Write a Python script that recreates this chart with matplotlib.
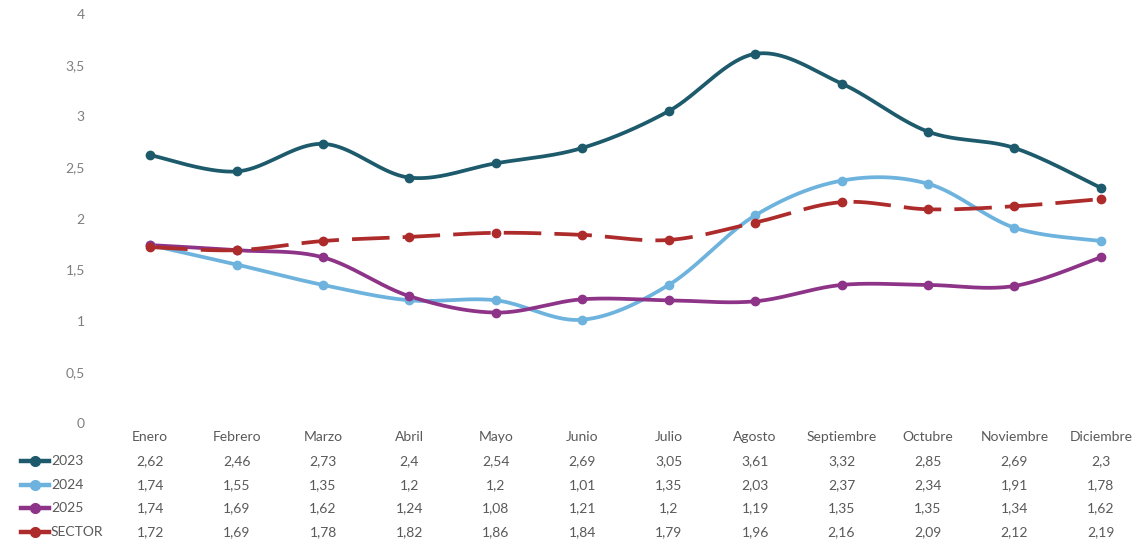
import numpy as np
import matplotlib
matplotlib.use("Agg")
import matplotlib.pyplot as plt
from matplotlib.lines import Line2D

plt.rcParams["font.family"] = ["Lato", "DejaVu Sans"]

months = ["Enero", "Febrero", "Marzo", "Abril", "Mayo", "Junio", "Julio",
          "Agosto", "Septiembre", "Octubre", "Noviembre", "Diciembre"]

v2023 = [2.62, 2.46, 2.73, 2.4, 2.54, 2.69, 3.05, 3.61, 3.32, 2.85, 2.69, 2.3]
v2024 = [1.74, 1.55, 1.35, 1.2, 1.2, 1.01, 1.35, 2.03, 2.37, 2.34, 1.91, 1.78]
v2025 = [1.74, 1.69, 1.62, 1.24, 1.08, 1.21, 1.2, 1.19, 1.35, 1.35, 1.34, 1.62]
sector = [1.72, 1.69, 1.78, 1.82, 1.86, 1.84, 1.79, 1.96, 2.16, 2.09, 2.12, 2.19]

series_names = ["2023", "2024", "2025", "SECTOR"]
series_vals = [v2023, v2024, v2025, sector]
colors = ["#1d5b6c", "#6db3de", "#8e3488", "#ad2b2b"]
styles = ["-", "-", "-", (0, (10, 3.5))]


def smooth(y, n=40):
    """Catmull-Rom style smoothing (like Excel smoothed lines)."""
    y = np.asarray(y, float)
    x = np.arange(len(y), dtype=float)
    px = np.concatenate([[x[0]], x, [x[-1]]])
    py = np.concatenate([[y[0]], y, [y[-1]]])
    xs, ys = [], []
    t = np.linspace(0, 1, n)
    for i in range(1, len(px) - 2):
        p0, p1, p2, p3 = (np.array([px[j], py[j]]) for j in (i - 1, i, i + 1, i + 2))
        c1 = p1 + (p2 - p0) / 6
        c2 = p2 - (p3 - p1) / 6
        b = ((1 - t) ** 3)[:, None] * p1 + (3 * (1 - t) ** 2 * t)[:, None] * c1 \
            + (3 * (1 - t) * t ** 2)[:, None] * c2 + (t ** 3)[:, None] * p2
        xs.append(b[:, 0]); ys.append(b[:, 1])
    return np.concatenate(xs), np.concatenate(ys)


fig = plt.figure(figsize=(11.44, 5.47), dpi=100)
ax = fig.add_axes([107 / 1144, 124 / 547, 1037 / 1144, 409 / 547])

x = np.arange(len(months))
for name, vals, col, ls in zip(series_names, series_vals, colors, styles):
    sx, sy = smooth(vals)
    ax.plot(sx, sy, color=col, lw=2.7, ls=ls, solid_capstyle="round",
            dash_capstyle="butt", zorder=3)
    ax.plot(x, vals, "o", color=col, ms=6, zorder=4)

ax.set_xlim(-0.5, len(months) - 0.5)
ax.set_ylim(0, 4)
ax.set_yticks(np.arange(0, 4.01, 0.5))
ax.set_yticklabels([f"{v:g}".replace(".", ",") for v in np.arange(0, 4.01, 0.5)],
                   color="#7f7f7f", fontsize=10)
ax.tick_params(axis="y", length=0, pad=16)
ax.set_xticks([])
for s in ax.spines.values():
    s.set_visible(False)

# data table below the plot
trans = ax.get_xaxis_transform()
row_y = [437, 461, 485, 508, 532]
txt_col = "#595959"
for i, m in enumerate(months):
    ax.text(i, 1 - (row_y[0] - 14) / 409, m, transform=trans, ha="center",
            va="center", fontsize=10, color=txt_col, clip_on=False)
for r, (name, vals, col) in enumerate(zip(series_names, series_vals, colors)):
    yy = 1 - (row_y[r + 1] - 14) / 409
    for i, v in enumerate(vals):
        ax.text(i, yy, f"{v:g}".replace(".", ","), transform=trans, ha="center",
                va="center", fontsize=10, color=txt_col, clip_on=False)
    fy = 1 - row_y[r + 1] / 547
    fig.add_artist(Line2D([21 / 1144, 49 / 1144], [fy, fy], color=col, lw=3.2,
                          transform=fig.transFigure))
    fig.add_artist(Line2D([35 / 1144], [fy], color=col, marker="o", ms=7,
                          transform=fig.transFigure))
    fig.text(51 / 1144, fy, name, ha="left", va="center", fontsize=10, color=txt_col)

fig.savefig("out.png", dpi=100)
